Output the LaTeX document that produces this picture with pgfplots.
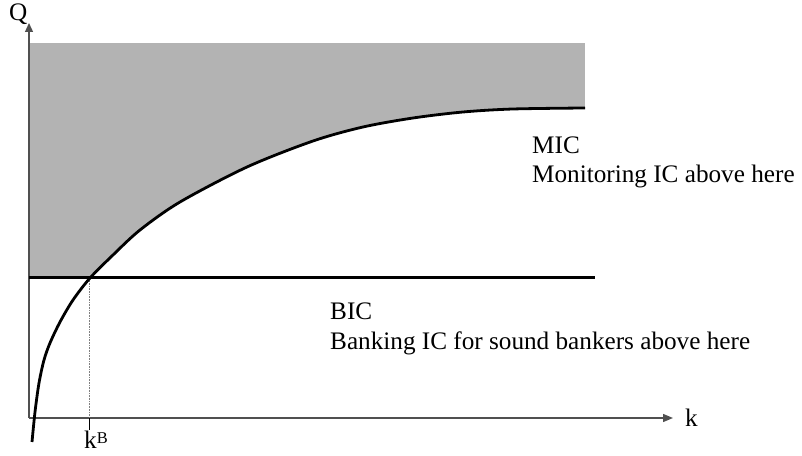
\documentclass[border=0pt]{standalone}
\usepackage{fontspec}
\setmainfont{Liberation Serif}
\usepackage{pgfplots}
\pgfplotsset{compat=1.18}
\usetikzlibrary{arrows.meta}
\definecolor{shade}{HTML}{B3B3B3}
\definecolor{axisgray}{HTML}{505050}
\begin{document}
\begin{tikzpicture}
\begin{axis}[
  scale only axis, width=802bp, height=456bp,
  xmin=0, xmax=802, ymin=0, ymax=456,
  hide axis, clip=false,
]
% invisible frame for bounding box
\addplot[draw=none] coordinates {(0,0) (802,456)};
% shaded feasible region: gray box, then region below MIC cleared
\addplot[fill=shade, draw=none] coordinates {(29,178) (29,413) (585,413) (585,178)} -- cycle;
\addplot[fill=white, draw=none, smooth] coordinates {
 (90,178) (113,201) (140,226) (180,254) (247,289) (313,315) (363,329)
 (413,338) (463,344) (513,347) (585,348)} -- (axis cs:586,348) -- (axis cs:586,176) -- (axis cs:90,176) -- cycle;
% axes
\addplot[axisgray, line width=1.3bp, -{Triangle[length=9bp,width=8bp]}] coordinates {(29,38) (29,433)};
\addplot[axisgray, line width=1.3bp, -{Triangle[length=10bp,width=8bp]}] coordinates {(29,38) (673,38)};
% BIC line
\addplot[black, line width=3bp] coordinates {(29,178) (595,178)};
% dotted line at k^B
\addplot[gray, line width=0.6bp, densely dotted] coordinates {(89,178) (89,38)};
\addplot[black, line width=0.8bp] coordinates {(89,38) (89,26)};
% MIC curve
\addplot[black, line width=2.8bp, smooth] coordinates {
 (32,14) (35,44) (39,73) (44,96) (50,113) (60,134) (73,156) (90,178) (113,201)
 (140,226) (180,254) (247,289) (313,315) (363,329) (413,338) (463,344) (513,347) (585,348)};
% labels
\fontsize{25.3}{29}\selectfont
\node[anchor=base west, inner sep=0] at (axis cs:9,435) {Q};
\node[anchor=base west, inner sep=0] at (axis cs:685,30) {k};
\node[anchor=base west, inner sep=0] at (axis cs:84,8) {k\raisebox{5bp}{\fontsize{16.5}{16.5}\selectfont B}};
\node[anchor=base west, inner sep=0] at (axis cs:532,302) {MIC};
\node[anchor=base west, inner sep=0] at (axis cs:532,273) {Monitoring IC above here};
\node[anchor=base west, inner sep=0] at (axis cs:330,136) {BIC};
\node[anchor=base west, inner sep=0] at (axis cs:330,106) {Banking IC for sound bankers above here};
\end{axis}
\end{tikzpicture}
\end{document}
